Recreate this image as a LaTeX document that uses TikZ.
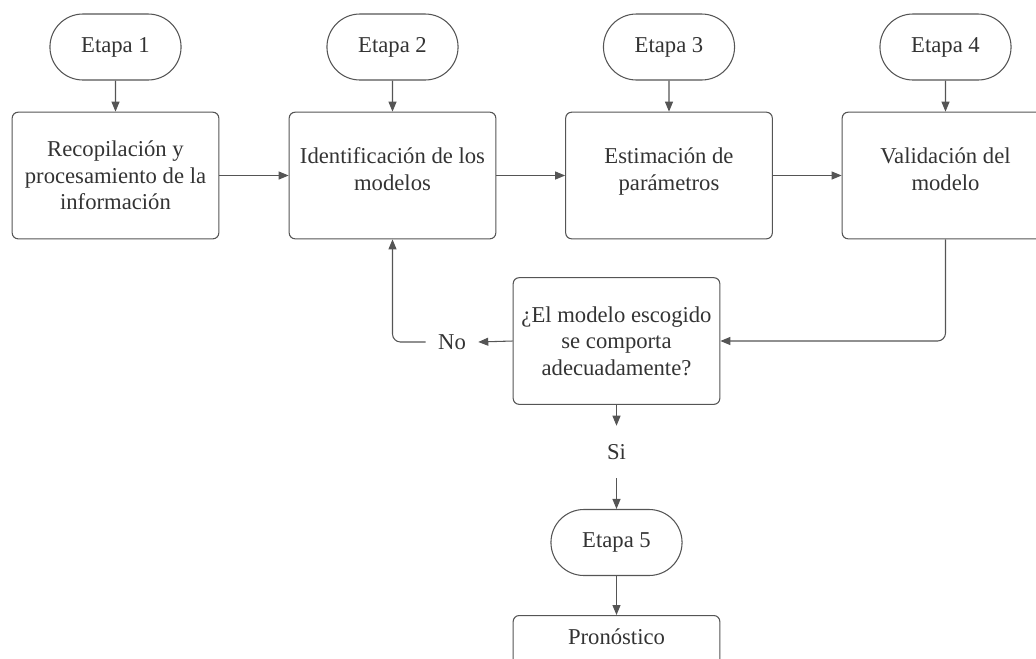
\documentclass[tikz,border=0pt]{standalone}
\usepackage{fontspec}
\setmainfont{Liberation Serif}
\usetikzlibrary{arrows.meta,positioning,shapes.misc}

\definecolor{linegray}{HTML}{555555}
\definecolor{txtgray}{HTML}{333333}

\tikzset{
  flowfont/.style={font=\fontsize{17}{20}\selectfont},
  stage/.style={rounded rectangle, draw=linegray, line width=0.8pt, text=txtgray,
    minimum width=105pt, minimum height=49.5pt, flowfont},
  box/.style={draw=linegray, line width=0.8pt, rounded corners=4.5pt, text=txtgray,
    align=center, minimum width=155pt, minimum height=95pt, flowfont},
  lbl/.style={text=txtgray, minimum width=39pt, minimum height=39pt, inner sep=0pt, flowfont},
  flow/.style={draw=linegray, line width=0.8pt, -{Triangle[length=7.5pt,width=6pt]}},
}

\begin{document}
\begin{tikzpicture}[x=0.75pt,y=-0.75pt]
  \useasboundingbox (0,0) rectangle (1036,658);
  \clip (0,0) rectangle (1036,658);

  % stages
  \node[stage] (e1) at (115.5,47) {Etapa 1};
  \node[stage] (e2) at (392.5,47) {Etapa 2};
  \node[stage] (e3) at (669,47) {Etapa 3};
  \node[stage] (e4) at (945.5,47) {Etapa 4};

  % process boxes
  \node[box] (b1) at (115.5,175.5) {Recopilación y\\procesamiento de la\\información};
  \node[box] (b2) at (392.5,175.5) {Identificación de los\\modelos\\[-10pt]\mbox{}};
  \node[box] (b3) at (669,175.5) {Estimación de\\parámetros\\[-10pt]\mbox{}};
  \node[box] (b4) at (945.5,175.5) {Validación del\\modelo\\[-10pt]\mbox{}};

  % decision
  \node[box] (dec) at (616.5,341) {¿El modelo escogido\\se comporta\\adecuadamente?};
  \node[lbl] (no) at (452,342) {No};
  \node[lbl] (si) at (616.5,452) {Si};

  % final stage
  \node[stage] (e5) at (616.5,542.5) {Etapa 5};
  \node[box, anchor=north,
    label={[text=txtgray, flowfont, anchor=north, yshift=-7pt]north:Pronóstico}] (pron) at (616.5,615) {};

  % connectors
  \foreach \i in {1,...,4}
    \draw[flow] (e\i) -- (b\i);
  \draw[flow] (b1) -- (b2);
  \draw[flow] (b2) -- (b3);
  \draw[flow] (b3) -- (b4);
  \draw[flow, rounded corners=6pt] (b4.south) |- (dec.east);
  \draw[flow] (dec.west) -- (no.east);
  \draw[flow, rounded corners=6pt] (no.west) -| (b2.south);
  \draw[flow] (dec.south) -- (si.north);
  \draw[flow] (si.south) -- (e5.north);
  \draw[flow] (e5.south) -- (pron.north);

\end{tikzpicture}
\end{document}
